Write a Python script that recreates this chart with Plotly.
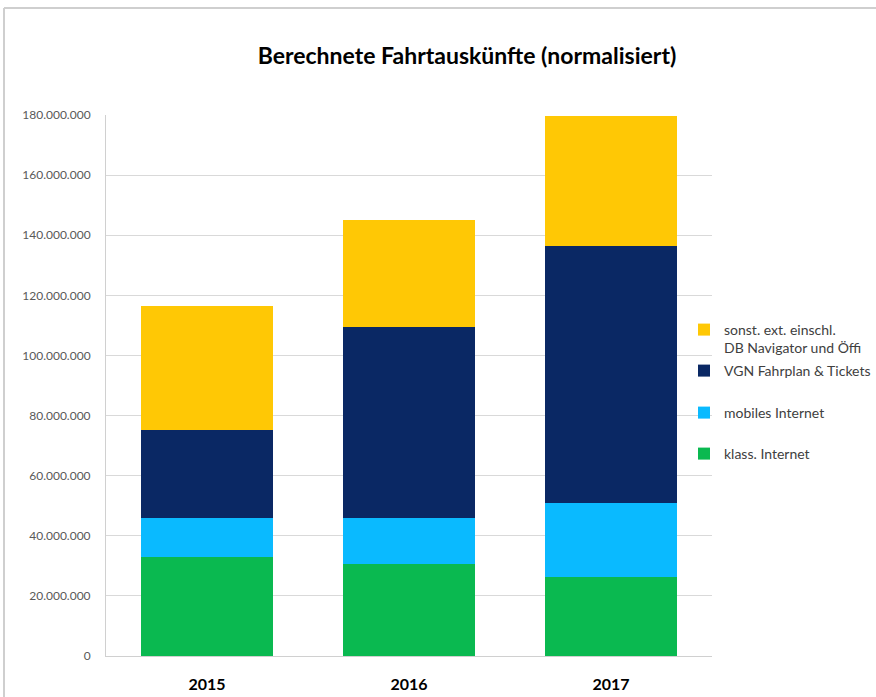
import plotly.graph_objects as go

years = ["2015", "2016", "2017"]
klass_internet = [32.8e6, 30.5e6, 26.2e6]
mobiles_internet = [13.1e6, 15.3e6, 24.6e6]
vgn_fahrplan = [29.3e6, 63.5e6, 85.6e6]
sonst_ext = [41.3e6, 35.7e6, 43.3e6]

series_names = [
    "klass. Internet",
    "mobiles Internet",
    "VGN Fahrplan & Tickets",
    "sonst. ext. einschl.<br>DB Navigator und Öffi",
]
series_values = [klass_internet, mobiles_internet, vgn_fahrplan, sonst_ext]
colors = ["#0AB950", "#0ABAFF", "#0A2864", "#FFC805"]
legend_ids = ["legend4", "legend3", "legend2", "legend"]

FONT = "Lato, 'Open Sans', sans-serif"

fig = go.Figure()
for name, vals, col, lg in zip(series_names, series_values, colors, legend_ids):
    fig.add_trace(go.Bar(x=years, y=vals, name=name, marker_color=col,
                         marker_line_width=0, legend=lg, showlegend=True))

W, H = 876, 697
L, R, T, B = 106, 712, 115, 656

def py(ypix):
    return (B - ypix) / (B - T)

def px(xpix):
    return (xpix - L) / (R - L)

leg_common = dict(font=dict(family=FONT, size=14, color="#404040"),
                  bgcolor="rgba(0,0,0,0)", xanchor="left", x=px(684),
                  itemwidth=30, valign="top")

fig.update_layout(
    width=W, height=H,
    margin=dict(l=L, r=W - R, t=T, b=H - B, autoexpand=False),
    paper_bgcolor="white", plot_bgcolor="white",
    barmode="stack", bargap=0.35,
    separators=",.",
    showlegend=True,
    title=dict(text="<b>Berechnete Fahrtauskünfte (normalisiert)</b>",
               x=467 / W, xanchor="center", y=1 - 56 / H, yanchor="middle",
               yref="container", xref="container",
               font=dict(family=FONT, size=23, color="#000000")),
    font=dict(family=FONT),
    legend=dict(**leg_common, y=py(314), yanchor="top"),
    legend2=dict(**leg_common, y=py(371), yanchor="middle"),
    legend3=dict(**leg_common, y=py(413), yanchor="middle"),
    legend4=dict(**leg_common, y=py(454), yanchor="middle"),
    xaxis=dict(showgrid=False, showline=True, linecolor="#D0D0D0", linewidth=1,
               tickmode="array", tickvals=years,
               ticktext=["<b>%s</b>" % y for y in years],
               tickfont=dict(family=FONT, size=16, color="#000000"),
               ticks="", ticklabelstandoff=14, automargin=False),
    yaxis=dict(range=[0, 180e6], dtick=20e6, tickformat=",d",
               showgrid=True, gridcolor="#D9D9D9", gridwidth=1,
               showline=True, linecolor="#D0D0D0", linewidth=1,
               zeroline=False, ticks="", automargin=False,
               tickfont=dict(family=FONT, size=12, color="#595959"),
               ticklabelstandoff=12),
)

# outer frame lines (left and top)
fig.add_shape(type="line", xref="paper", yref="paper",
              x0=px(4), x1=px(4), y0=py(8), y1=py(700),
              line=dict(color="#CFCFCF", width=2))
fig.add_shape(type="line", xref="paper", yref="paper",
              x0=px(4), x1=px(880), y0=py(8), y1=py(8),
              line=dict(color="#CFCFCF", width=2))

fig.write_html("out.html", config={"displayModeBar": False},
               post_script="document.body.style.margin='0';document.body.style.overflow='hidden';")
